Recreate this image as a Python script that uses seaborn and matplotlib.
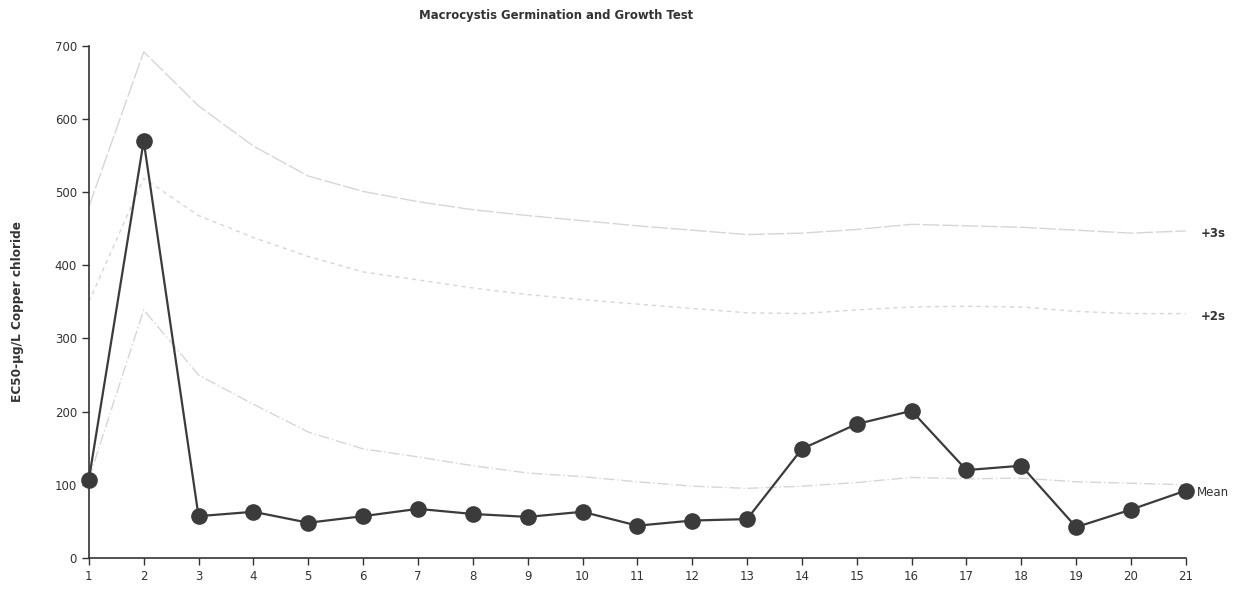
import matplotlib
matplotlib.use("Agg")
import matplotlib.pyplot as plt
from matplotlib import font_manager
import seaborn as sns
import pandas as pd

# ---- data ----
runs = list(range(1, 22))
ec50 = [107, 570, 57, 63, 48, 57, 67, 60, 56, 63, 44, 51, 53, 149, 183, 201, 120, 126, 42, 66, 92]
mean_line = [108, 339, 250, 210, 172, 149, 138, 126, 116, 111, 104, 98, 95, 98, 103, 110, 108, 109, 104, 102, 100]
plus2s = [350, 519, 468, 438, 412, 391, 380, 369, 360, 353, 347, 341, 335, 334, 339, 343, 344, 343, 337, 334, 334]
plus3s = [480, 692, 618, 563, 522, 501, 487, 476, 468, 461, 454, 448, 442, 444, 449, 456, 454, 452, 448, 444, 447]
limit_labels = ["Mean", "+2s", "+3s"]
y_ticks = [0, 100, 200, 300, 400, 500, 600, 700]

title = "Macrocystis Germination and Growth Test"
ylabel = "EC50-\u00b5g/L Copper chloride"

sns.set_style("ticks")
plt.rcParams["font.family"] = ["DejaVu Sans"]

names = {f.name for f in font_manager.fontManager.ttflist}
narrow = "Liberation Sans Narrow" if "Liberation Sans Narrow" in names else "DejaVu Sans"

fig = plt.figure(figsize=(12.34, 5.96), dpi=100)
ax = fig.add_axes([0.072, 0.064, 0.889, 0.859])

df = pd.DataFrame({"run": runs, "ec50": ec50, "Mean": mean_line, "+2s": plus2s, "+3s": plus3s})

limit_color = "#d6d6d6"
styles = [(0, (8, 2, 1, 2)), (0, (3, 3)), (0, (12, 2))]
for name, ls in zip(limit_labels, styles):
    sns.lineplot(data=df, x="run", y=name, ax=ax, color=limit_color, lw=1.0,
                 linestyle=ls, legend=False)
    dx = 0.2 if name == "Mean" else 0.27
    dy = -10 if name == "Mean" else -4
    ax.text(df["run"].iloc[-1] + dx, df[name].iloc[-1] + dy, name, fontsize=8.5,
            color="#333333", va="center", ha="left", family=narrow,
            fontweight="normal" if name == "Mean" else "bold")

sns.lineplot(data=df, x="run", y="ec50", ax=ax, color="#3b3b3b", lw=1.6,
             marker="o", markersize=12, markeredgewidth=0, legend=False, zorder=5,
             clip_on=False)

ax.set_xlim(1, 21)
ax.set_ylim(0, 700)
ax.set_xticks(runs)
ax.set_yticks(y_ticks)
ax.tick_params(axis="both", labelsize=8.5, colors="#333333", length=5, width=1)
ax.set_xlabel("")
ax.set_ylabel("")
sns.despine(ax=ax)
for s in ["left", "bottom"]:
    ax.spines[s].set_color("#333333")
    ax.spines[s].set_linewidth(1.2)

fig.text(18 / 1234, 1 - 312 / 596, ylabel, rotation=90, ha="center", va="center",
         fontsize=10 if narrow != "DejaVu Sans" else 8.7, fontweight="bold",
         color="#333333", family=narrow)

fig.text(556 / 1234, 1 - 16 / 596, title, ha="center", va="center",
         fontsize=11.5 if narrow != "DejaVu Sans" else 8.4,
         fontweight="bold", color="#333333", family=narrow)

fig.savefig("out.png", dpi=100)
